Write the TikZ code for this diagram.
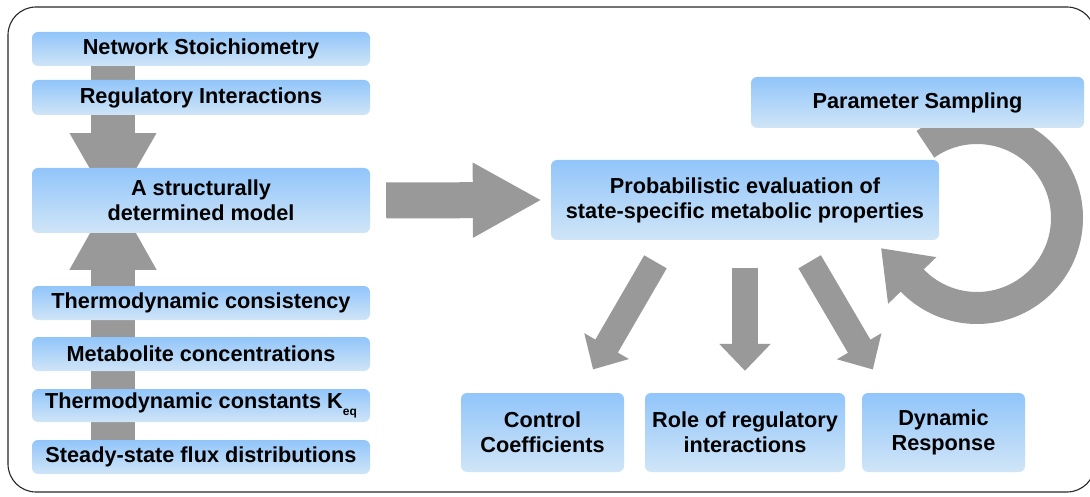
\documentclass[tikz,border=0pt]{standalone}
\usepackage{fontspec}
\setmainfont{Liberation Sans}
\usetikzlibrary{arrows.meta,backgrounds}
\definecolor{boxtop}{RGB}{145,197,250}
\definecolor{boxbot}{RGB}{208,229,247}
\definecolor{arrowgray}{RGB}{153,153,153}
\begin{document}
\begin{tikzpicture}[x=1pt,y=-1pt,
  box/.style={rectangle, rounded corners=6pt, top color=boxtop, bottom color=boxbot, inner sep=0pt, align=center, font=\fontsize{21.7}{25}\selectfont\bfseries},
  fat/.style={arrowgray, line width=#1}]
\path[use as bounding box, clip] (0,0) rectangle (1090,497);

% left column
\node [box, minimum width=338pt, minimum height=34pt] (b1) at (201,49) {Network Stoichiometry};
\node [box, minimum width=338pt, minimum height=35pt] (b2) at (201,97.5) {Regulatory Interactions};
\node [box, minimum width=338pt, minimum height=65pt] (b3) at (201,200.5) {A structurally\\determined model};
\node [box, minimum width=338pt, minimum height=34pt] (b4) at (201,303) {Thermodynamic consistency};
\node [box, minimum width=338pt, minimum height=34pt] (b5) at (201,354) {Metabolite concentrations};
\node [box, minimum width=338pt, minimum height=33pt] (b6) at (201,405.5) {Thermodynamic constants K\raisebox{-7pt}{\fontsize{12}{12}\selectfont eq}};
\node [box, minimum width=338pt, minimum height=34pt] (b7) at (201,457) {Steady-state flux distributions};

% right part
\node [box, minimum width=388pt, minimum height=80pt] (b8) at (745,200) {Probabilistic evaluation of\\state-specific metabolic properties};
\node [box, minimum width=333pt, minimum height=51pt] (b9) at (917.5,102.5) {Parameter Sampling};
\node [box, minimum width=163pt, minimum height=79pt] (b10) at (542.5,432.5) {Control\\Coefficients};
\node [box, minimum width=200pt, minimum height=79pt] (b11) at (745,432.5) {Role of regulatory\\interactions};
\node [box, minimum width=163pt, minimum height=79pt] (b12) at (943.5,432.5) {Dynamic\\Response};
\coordinate (c) at (977,218);

\begin{scope}[on background layer]
\draw [rounded corners=28pt, line width=1.1pt, black!85] (8,7) rectangle (1095,492);
\draw [fat=44pt, -{Triangle[width=81pt,length=77pt]}, shorten >=23pt] ([xshift=-88pt]b1.center) -- ([xshift=-88pt]b3.south);
\draw [fat=44pt, -{Triangle[width=81pt,length=79pt]}, shorten >=23pt] ([xshift=-88pt]b7.center) -- ([xshift=-88pt]b3.north);
\draw [fat=36pt, -{Triangle[width=70pt,length=69pt]}, shorten <=16pt, shorten >=9pt] (b3.east) -- (b8.west);
\draw [fat=26pt, -{Triangle[width=50pt,length=27pt]}, shorten <=25pt, shorten >=27pt] ([xshift=-77pt]b8.south) -- ([xshift=37pt]b10.north);
\draw [fat=26pt, -{Triangle[width=50pt,length=27pt]}, shorten <=28pt, shorten >=22pt] (b8.south) -- (b11.north);
\draw [fat=26pt, -{Triangle[width=50pt,length=27pt]}, shorten <=25pt, shorten >=27pt] ([xshift=52pt]b8.south) -- ([xshift=-57pt]b12.north);
\draw [fat=32pt, -{Triangle[width=64pt,length=45pt]}] ([shift={(235:90)}]c) arc[start angle=235, end angle=496, radius=90] -- ++(-31.3,-32.4);
\end{scope}
\end{tikzpicture}
\end{document}
